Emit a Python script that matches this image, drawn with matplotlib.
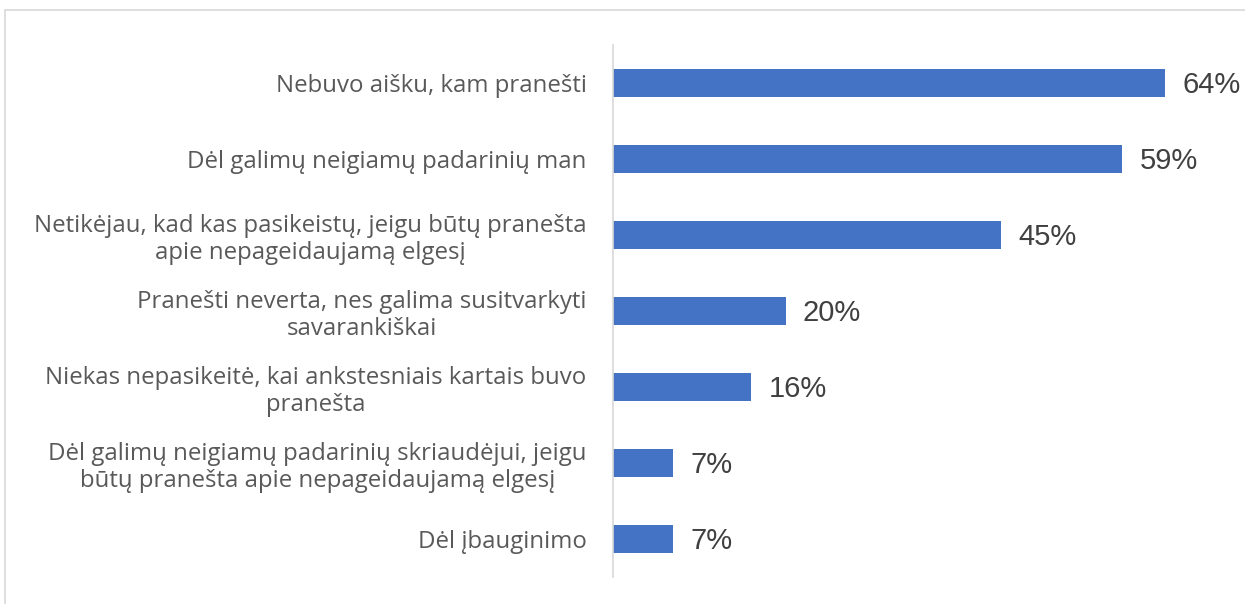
import matplotlib.pyplot as plt
from matplotlib.patches import Rectangle

categories = [
    'Nebuvo aišku, kam pranešti',
    'Dėl galimų neigiamų padarinių man',
    'Netikėjau, kad kas pasikeistų, jeigu būtų pranešta\napie nepageidaujamą elgesį',
    'Pranešti neverta, nes galima susitvarkyti\nsavarankiškai',
    'Niekas nepasikeitė, kai ankstesniais kartais buvo\npranešta',
    'Dėl galimų neigiamų padarinių skriaudėjui, jeigu\nbūtų pranešta apie nepageidaujamą elgesį',
    'Dėl įbauginimo',
]
values = [64, 59, 45, 20, 16, 7, 7]

W, H = 1245, 604
fig = plt.figure(figsize=(W / 100, H / 100), dpi=100)
# light frame, open at the bottom and right (cropped)
fig.patches.append(Rectangle((5 / W, -0.2), 1.2, 1.2 - 10 / H, transform=fig.transFigure,
                             fill=False, edgecolor='#d9d9d9', linewidth=1.2))

ax = fig.add_axes([613 / W, 27 / H, 604 / W, 532 / H])
y = list(range(len(values)))
ax.barh(y, values, height=0.36, color='#4472c4')
ax.set_xlim(0, 70)
ax.set_ylim(len(values) - 0.5, -0.5)

for yi, v in zip(y, values):
    ax.text(v + 2, yi + 0.03, f'{v}%', va='center', ha='left', fontsize=21,
            family='Liberation Sans', color='#404040')

ax.set_yticks(y)
ax.set_yticklabels(categories, fontsize=17.3, family='Open Sans', color='#595959',
                   multialignment='center', linespacing=1.15)
ax.tick_params(axis='y', length=0, pad=19)
ax.set_xticks([])
for s in ['top', 'right', 'bottom']:
    ax.spines[s].set_visible(False)
ax.spines['left'].set_color('#d9d9d9')
ax.spines['left'].set_linewidth(1.2)

fig.savefig('out.png', dpi=100)
